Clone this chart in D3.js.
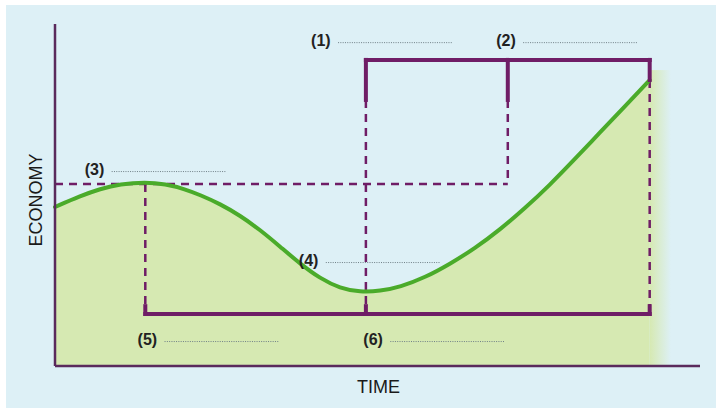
<!DOCTYPE html>
<html><head><meta charset="utf-8">
<script src="https://cdn.jsdelivr.net/npm/d3@7"></script>
<style>html,body{margin:0;padding:0;background:#fff;}svg{display:block;}</style>
</head><body>
<svg id="chart" width="716" height="408"></svg>
<script>
// ---- data (abstract units: time 0..100, economy 0..100) ----
const curveTime    = [0, 3.9, 7.0, 10.1, 14.0, 17.1, 20.2, 22.5, 25.6, 28.7, 31.8, 34.9, 38.0, 41.1, 44.2, 47.3, 50.4, 53.5, 57.4, 61.2, 65.1, 69.0, 72.9, 76.7, 80.6, 84.5, 88.4, 92.2];
const curveEconomy = [46.5, 49.7, 51.8, 53.2, 53.8, 53.2, 51.7, 50.0, 47.4, 44.0, 39.8, 34.9, 29.9, 25.6, 22.7, 21.6, 21.9, 23.1, 25.9, 29.8, 34.4, 39.9, 46.2, 52.9, 60.5, 68.3, 76.0, 83.6];
const markTimes    = [14.0, 48.2, 70.2, 92.2];   // peak, trough, expansion ref, end
const peakLevel    = 53.2;   // dashed reference level
const topBracket   = 89.5;
const topTickEnd   = 77.8;
const bottomBracket= 15.2;
const labels       = ["(1)", "(2)", "(3)", "(4)", "(5)", "(6)"];
const labelTimes   = [39.7, 68.4, 4.6, 37.8, 12.8, 47.8];
const labelLevels  = [94.7, 94.7, 57.0, 30.4, 7.3, 7.3];
const axisTitles   = ["TIME", "ECONOMY"];

// ---- layout ----
const W = 716, H = 408;
const x = d3.scaleLinear().domain([0, 100]).range([55, 700]);
const y = d3.scaleLinear().domain([0, 100]).range([366, 24]);
const svg = d3.select("#chart");
const purple = "#6f1d66", axisCol = "#5a2a5c", green = "#4aab2a", fillCol = "#d6e9b2";
const font = "Liberation Sans, Arial, sans-serif";

svg.append("rect").attr("x", 6).attr("y", 5).attr("width", W - 6).attr("height", H - 5).attr("fill", "#ddf0f6");

const pts = curveTime.map((t, i) => [t, curveEconomy[i]]);
const last = curveEconomy[curveEconomy.length - 1];
const defs = svg.append("defs");
const grad = defs.append("linearGradient").attr("id", "fade").attr("x1", "0").attr("x2", "1");
grad.append("stop").attr("offset", "0").attr("stop-color", fillCol);
grad.append("stop").attr("offset", "1").attr("stop-color", fillCol).attr("stop-opacity", 0);

// area fill
svg.append("path").datum(pts)
  .attr("d", d3.area().x(d => x(d[0])).y0(y(0)).y1(d => y(d[1])).curve(d3.curveBasis))
  .attr("fill", fillCol);
svg.append("rect").attr("x", x(markTimes[3])).attr("y", y(last) - 10)
  .attr("width", x(95.5) - x(markTimes[3])).attr("height", y(0) - y(last) + 10)
  .attr("fill", "url(#fade)");

// dashed guides
const dash = (x1, y1, x2, y2) => svg.append("line")
  .attr("x1", x(x1)).attr("y1", y(y1)).attr("x2", x(x2)).attr("y2", y(y2))
  .attr("stroke", purple).attr("stroke-width", 2.5).attr("stroke-dasharray", "8,6");
dash(0, peakLevel, markTimes[2], peakLevel);
dash(markTimes[0], peakLevel, markTimes[0], bottomBracket);
dash(markTimes[1], topTickEnd, markTimes[1], bottomBracket);
dash(markTimes[2], topTickEnd, markTimes[2], peakLevel);
dash(markTimes[3], last, markTimes[3], bottomBracket);

// curve
svg.append("path").datum(pts)
  .attr("d", d3.line().x(d => x(d[0])).y(d => y(d[1])).curve(d3.curveBasis))
  .attr("fill", "none").attr("stroke", green).attr("stroke-width", 4).attr("stroke-linecap", "round");

// brackets
const solid = (x1, y1, x2, y2) => svg.append("line")
  .attr("x1", x(x1)).attr("y1", y(y1)).attr("x2", x(x2)).attr("y2", y(y2))
  .attr("stroke", purple).attr("stroke-width", 4).attr("stroke-linecap", "square");
solid(markTimes[1], topBracket, markTimes[3], topBracket);
solid(markTimes[1], topBracket, markTimes[1], topTickEnd);
solid(markTimes[2], topBracket, markTimes[2], topTickEnd);
solid(markTimes[3], topBracket, markTimes[3], last);
solid(markTimes[0], bottomBracket, markTimes[3], bottomBracket);
[0, 1, 3].forEach(i => solid(markTimes[i], bottomBracket, markTimes[i], bottomBracket + 2.3));

// axes
svg.append("line").attr("x1", x(0)).attr("y1", y(100)).attr("x2", x(0)).attr("y2", y(0))
  .attr("stroke", axisCol).attr("stroke-width", 2.5);
svg.append("line").attr("x1", x(0)).attr("y1", y(0)).attr("x2", x(100)).attr("y2", y(0))
  .attr("stroke", axisCol).attr("stroke-width", 2.5);

svg.append("text").attr("x", (x(0) + x(100)) / 2 + 1).attr("y", 393)
  .attr("text-anchor", "middle").attr("font-family", font)
  .attr("font-size", 18).attr("fill", "#1a1a1a").text(axisTitles[0]);
svg.append("text").attr("transform", `translate(42,200) rotate(-90)`)
  .attr("text-anchor", "middle").attr("font-family", font)
  .attr("font-size", 18).attr("fill", "#1a1a1a").text(axisTitles[1]);

// numbered labels with dotted answer lines
labels.forEach((lab, i) => {
  const lx = x(labelTimes[i]), ly = y(labelLevels[i]);
  svg.append("text").attr("x", lx).attr("y", ly + 3.5)
    .attr("font-family", font).attr("font-weight", "bold")
    .attr("font-size", 16).attr("fill", "#222").text(lab);
  svg.append("line").attr("x1", lx + 27).attr("x2", lx + 141).attr("y1", ly + 0.5).attr("y2", ly + 0.5)
    .attr("stroke", "#6f7f86").attr("stroke-width", 1).attr("stroke-dasharray", "1,1.3");
});
</script>
</body></html>
